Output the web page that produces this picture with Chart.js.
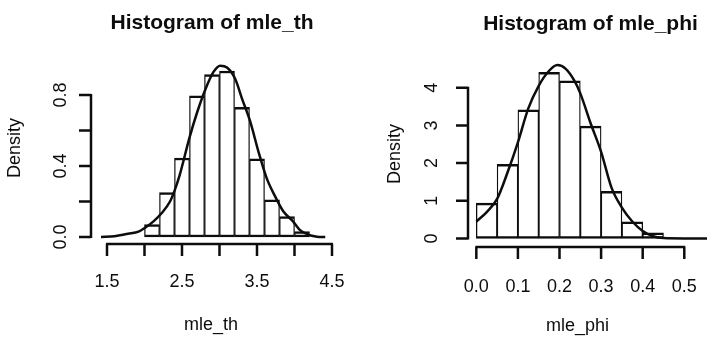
<!DOCTYPE html>
<html>
<head>
<meta charset="utf-8">
<script src="https://cdn.jsdelivr.net/npm/chart.js@4"></script>
<style>
  html, body { margin: 0; padding: 0; background: #ffffff; }
  body { width: 707px; height: 337px; position: relative; overflow: hidden; }
  .panel { position: absolute; top: 0; height: 337px; }
  #p1 { left: 0; width: 353px; }
  #p2 { left: 353px; width: 354px; }
</style>
</head>
<body>
<div class="panel" id="p1"><canvas id="c1" width="353" height="337"></canvas></div>
<div class="panel" id="p2"><canvas id="c2" width="354" height="337"></canvas></div>
<script>
// ---------- data: mle_th ----------
const thTitle = 'Histogram of mle_th';
const thXLabel = 'mle_th';
const thBinMids = [2.1, 2.3, 2.5, 2.7, 2.9, 3.1, 3.3, 3.5, 3.7, 3.9, 4.1];
const thDensity = [0.07, 0.25, 0.445, 0.795, 0.915, 0.935, 0.73, 0.44, 0.21, 0.115, 0.03];
const thCurveX = [1.42, 1.6, 1.78, 1.92, 2.0, 2.12, 2.23, 2.34, 2.4, 2.47, 2.6, 2.7, 2.81, 2.92, 3.01, 3.1, 3.21, 3.3, 3.41, 3.52, 3.63, 3.74, 3.85, 3.98, 4.07, 4.18, 4.3, 4.41];
const thCurveY = [0, 0.004, 0.018, 0.03, 0.05, 0.088, 0.135, 0.2, 0.26, 0.35, 0.56, 0.7, 0.83, 0.93, 0.965, 0.955, 0.89, 0.78, 0.65, 0.48, 0.33, 0.23, 0.145, 0.088, 0.04, 0.013, 0.002, 0];
const thXTicks = [1.5, 2.0, 2.5, 3.0, 3.5, 4.0, 4.5];
const thXTickLabels = ['1.5', '', '2.5', '', '3.5', '', '4.5'];
const thYTicks = [0, 0.2, 0.4, 0.6, 0.8];
const thYTickLabels = ['0.0', '', '0.4', '', '0.8'];

// ---------- data: mle_phi ----------
const phiTitle = 'Histogram of mle_phi';
const phiXLabel = 'mle_phi';
const phiBinMids = [0.025, 0.075, 0.125, 0.175, 0.225, 0.275, 0.325, 0.375, 0.425];
const phiDensity = [0.94, 1.97, 3.41, 4.41, 4.18, 2.98, 1.25, 0.44, 0.15];
const phiCurveX = [0.0, 0.025, 0.05, 0.075, 0.1, 0.125, 0.15, 0.175, 0.195, 0.215, 0.235, 0.25, 0.275, 0.3, 0.325, 0.35, 0.375, 0.4, 0.425, 0.45, 0.5, 0.555];
const phiCurveY = [0.45, 0.7, 1.05, 1.75, 2.55, 3.45, 4.05, 4.45, 4.6, 4.5, 4.2, 3.85, 3.05, 2.3, 1.35, 0.82, 0.45, 0.2, 0.06, 0.01, 0, 0];
const phiXTicks = [0, 0.1, 0.2, 0.3, 0.4, 0.5];
const phiXTickLabels = ['0.0', '0.1', '0.2', '0.3', '0.4', '0.5'];
const phiYTicks = [0, 1, 2, 3, 4];
const phiYTickLabels = ['0', '1', '2', '3', '4'];

const INK = '#0d0d0d';
const FONT = '"Liberation Sans", Arial, Helvetica, sans-serif';

function rPlotPlugin(cfg) {
  return {
    id: 'rplot',
    afterDraw(chart) {
      const ctx = chart.ctx;
      const xs = chart.scales.x, ys = chart.scales.y;
      const area = chart.chartArea;
      ctx.save();
      ctx.strokeStyle = INK;
      ctx.fillStyle = INK;
      ctx.lineWidth = 2.5;
      ctx.lineCap = 'butt';
      // x axis
      const xa = area.bottom;
      const x0 = xs.getPixelForValue(cfg.xTicks[0]);
      const x1 = xs.getPixelForValue(cfg.xTicks[cfg.xTicks.length - 1]);
      ctx.beginPath();
      ctx.moveTo(x0 - 1, xa); ctx.lineTo(x1 + 1, xa);
      cfg.xTicks.forEach(v => {
        const p = xs.getPixelForValue(v);
        ctx.moveTo(p, xa); ctx.lineTo(p, xa + cfg.tickLen);
      });
      ctx.stroke();
      // y axis
      const ya = area.left;
      const y0 = ys.getPixelForValue(cfg.yTicks[0]);
      const y1 = ys.getPixelForValue(cfg.yTicks[cfg.yTicks.length - 1]);
      ctx.beginPath();
      ctx.moveTo(ya, y0 + 1); ctx.lineTo(ya, y1 - 1);
      cfg.yTicks.forEach(v => {
        const p = ys.getPixelForValue(v);
        ctx.moveTo(ya, p); ctx.lineTo(ya - cfg.tickLen, p);
      });
      ctx.stroke();
      // tick labels
      ctx.font = '18px ' + FONT;
      ctx.textAlign = 'center';
      ctx.textBaseline = 'middle';
      cfg.xTicks.forEach((v, i) => {
        if (cfg.xTickLabels[i]) ctx.fillText(cfg.xTickLabels[i], xs.getPixelForValue(v), cfg.xLabelY);
      });
      cfg.yTicks.forEach((v, i) => {
        if (!cfg.yTickLabels[i]) return;
        ctx.save();
        ctx.translate(cfg.yLabelX, ys.getPixelForValue(v));
        ctx.rotate(-Math.PI / 2);
        ctx.fillText(cfg.yTickLabels[i], 0, 0);
        ctx.restore();
      });
      // axis titles
      ctx.font = '18px ' + FONT;
      ctx.textBaseline = 'alphabetic';
      ctx.fillText(cfg.xTitle, cfg.xTitlePos[0], cfg.xTitlePos[1]);
      ctx.save();
      ctx.translate(cfg.yTitlePos[0], cfg.yTitlePos[1]);
      ctx.rotate(-Math.PI / 2);
      ctx.textBaseline = 'middle';
      ctx.fillText('Density', 0, 0);
      ctx.restore();
      // main title
      ctx.font = 'bold 21px ' + FONT;
      ctx.textBaseline = 'alphabetic';
      ctx.fillText(cfg.title, cfg.titlePos[0], cfg.titlePos[1]);
      ctx.restore();
    }
  };
}

function makeChart(canvasId, mids, dens, cx, cy, range, pad, cfg) {
  new Chart(document.getElementById(canvasId), {
    type: 'bar',
    data: {
      datasets: [
        {
          type: 'line',
          data: cx.map((x, i) => ({ x: x, y: cy[i] })),
          borderColor: INK,
          borderWidth: 2.5,
          pointRadius: 0,
          fill: false,
          cubicInterpolationMode: 'monotone',
          order: 0
        },
        {
          type: 'bar',
          data: mids.map((x, i) => ({ x: x, y: dens[i] })),
          backgroundColor: '#ffffff',
          borderColor: INK,
          borderWidth: { top: 2.5, bottom: 2.5, left: 1.3, right: 1.3 },
          borderSkipped: false,
          barPercentage: 1,
          categoryPercentage: 1,
          order: 1
        }
      ]
    },
    options: {
      responsive: false,
      animation: false,
      devicePixelRatio: 1,
      layout: { padding: pad },
      plugins: { legend: { display: false }, tooltip: { enabled: false }, title: { display: false } },
      scales: {
        x: { type: 'linear', display: false, offset: false, min: range.xmin, max: range.xmax },
        y: { type: 'linear', display: false, min: range.ymin, max: range.ymax }
      }
    },
    plugins: [rPlotPlugin(cfg)]
  });
}

makeChart('c1', thBinMids, thDensity, thCurveX, thCurveY,
  { xmin: 1.2867, xmax: 4.62, ymin: -0.0394, ymax: 0.9972 },
  { left: 91, right: 12, top: 60, bottom: 93 },
  {
    xTicks: thXTicks, xTickLabels: thXTickLabels, yTicks: thYTicks, yTickLabels: thYTickLabels,
    tickLen: 12, xLabelY: 282, yLabelX: 61,
    xTitle: thXLabel, xTitlePos: [211, 330], yTitlePos: [15, 148],
    title: thTitle, titlePos: [212, 28.5]
  });

makeChart('c2', phiBinMids, phiDensity, phiCurveX, phiCurveY,
  { xmin: -0.02, xmax: 0.5546, ymin: -0.2255, ymax: 4.735 },
  { left: 115, right: 0, top: 60, bottom: 90 },
  {
    xTicks: phiXTicks, xTickLabels: phiXTickLabels, yTicks: phiYTicks, yTickLabels: phiYTickLabels,
    tickLen: 12, xLabelY: 287, yLabelX: 79,
    xTitle: phiXLabel, xTitlePos: [224.5, 331], yTitlePos: [42.5, 154],
    title: phiTitle, titlePos: [237.5, 30]
  });
</script>
</body>
</html>
